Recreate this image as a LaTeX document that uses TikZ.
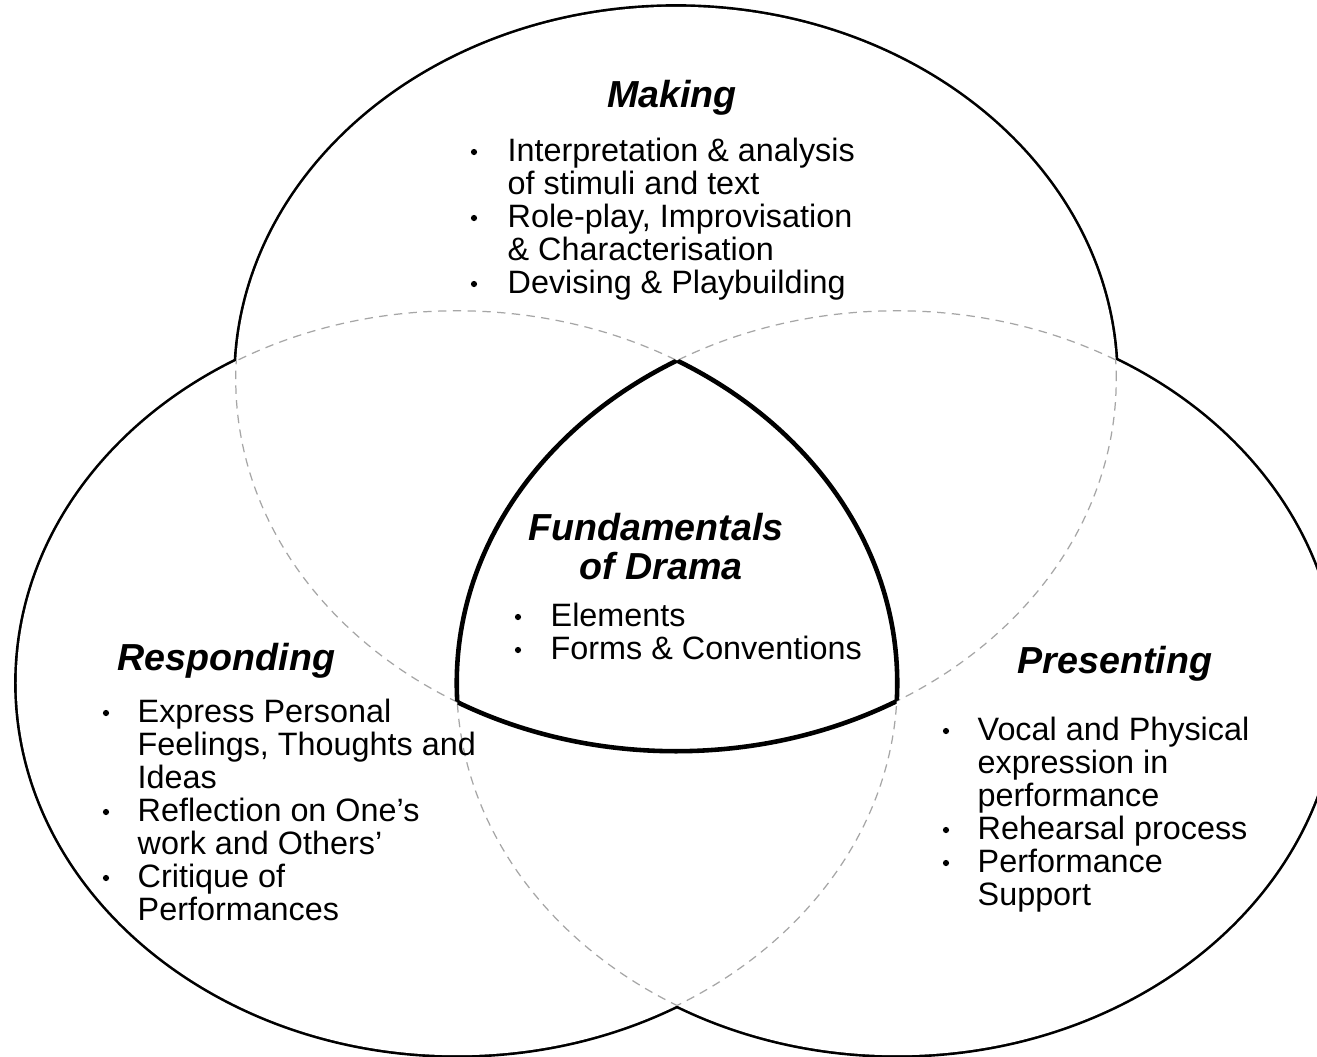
\documentclass[tikz,border=0pt]{standalone}
\usepackage{fontspec}
\setmainfont{Liberation Sans}

\begin{document}
\begin{tikzpicture}[x=0.01cm, y=-0.01cm,
    venn/.style={x radius=4.4cm, y radius=3.72cm},
    heading/.style={font=\fontsize{10.7}{12}\selectfont\bfseries\itshape, inner sep=0pt},
    item/.style={font=\fontsize{9.2}{11}\selectfont, inner sep=0pt, anchor=base west},
    dot/.style={circle, fill, inner sep=0pt, minimum size=0.062cm},
    outline/.style={line width=1.5pt},
    overlap/.style={draw=black!35, line width=0.35pt, dash pattern=on 2.4pt off 1.8pt},
    core/.style={line width=1.3pt, line join=miter}]
    \clip (0,0) rectangle (1317,1057);
    \coordinate (topc) at (676,379);
    \coordinate (leftc) at (457,683);
    \coordinate (rightc) at (897,683);

    % Outer rim: thick line, white fill hides the inner half
    \foreach \c in {topc,leftc,rightc}
        \draw[outline] (\c) ellipse [venn];
    \foreach \c in {topc,leftc,rightc}
        \fill[white] (\c) ellipse [venn];

    % Overlaps (dashed)
    \begin{scope}
        \clip (leftc) ellipse [venn] (rightc) ellipse [venn];
        \draw[overlap] (topc) ellipse [venn];
    \end{scope}
    \begin{scope}
        \clip (topc) ellipse [venn] (rightc) ellipse [venn];
        \draw[overlap] (leftc) ellipse [venn];
    \end{scope}
    \begin{scope}
        \clip (topc) ellipse [venn] (leftc) ellipse [venn];
        \draw[overlap] (rightc) ellipse [venn];
    \end{scope}

    % Centre: where all three meet
    \begin{scope}
        \clip (leftc) ellipse [venn];
        \clip (rightc) ellipse [venn];
        \draw[core] (topc) ellipse [venn];
    \end{scope}
    \begin{scope}
        \clip (topc) ellipse [venn];
        \clip (rightc) ellipse [venn];
        \draw[core] (leftc) ellipse [venn];
    \end{scope}
    \begin{scope}
        \clip (topc) ellipse [venn];
        \clip (leftc) ellipse [venn];
        \draw[core] (rightc) ellipse [venn];
    \end{scope}

    % Making
    \node[heading, anchor=base] (making) at (672,107) {Making};
    \foreach \t [count=\i from 0] in {Interpretation \& analysis, of stimuli and text,
            {Role-play, Improvisation}, \& Characterisation, Devising \& Playbuilding}
        \node[item] (making\i) at (507,161+33*\i) {\t};
    \foreach \y in {161,227,293}
        \node[dot] (makingdot\y) at (474,\y-9) {};

    % Fundamentals of Drama
    \node[heading, anchor=base] (fund) at (656,540) {Fundamentals};
    \node[heading, anchor=base] (drama) at (661,579) {of Drama};
    \foreach \t [count=\i from 0] in {Elements, Forms \& Conventions}
        \node[item] (fund\i) at (550,626+33*\i) {\t};
    \foreach \y in {626,659}
        \node[dot] (funddot\y) at (518,\y-9) {};

    % Responding
    \node[heading, anchor=base west] (responding) at (117,670) {Responding};
    \foreach \t [count=\i from 0] in {Express Personal, {Feelings, Thoughts and}, Ideas,
            Reflection on One’s, work and Others’, Critique of, Performances}
        \node[item] (responding\i) at (137,722+33*\i) {\t};
    \foreach \y in {722,821,887}
        \node[dot] (respondingdot\y) at (106,\y-9) {};

    % Presenting
    \node[heading, anchor=base west] (presenting) at (1017,673) {Presenting};
    \foreach \t [count=\i from 0] in {Vocal and Physical, expression in, performance,
            Rehearsal process, Performance, Support}
        \node[item] (presenting\i) at (977,740+33*\i) {\t};
    \foreach \y in {740,839,872}
        \node[dot] (presentingdot\y) at (946,\y-9) {};
\end{tikzpicture}
\end{document}
